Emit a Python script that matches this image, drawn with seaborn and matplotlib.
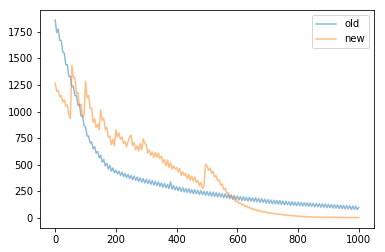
import matplotlib
matplotlib.use("Agg")
import matplotlib.pyplot as plt
import seaborn as sns

# x positions (step of 5)
steps = list(range(0, 1001, 5))

old = [
    1860, 1740, 1775, 1670, 1665, 1560, 1545, 1440, 1440, 1330,
    1330, 1230, 1240, 1150, 1150, 1060, 1065, 960, 960, 870,
    855, 770, 770, 705, 715, 650, 670, 610, 625, 565,
    590, 525, 550, 490, 515, 460, 495, 440, 470, 425,
    450, 415, 440, 400, 430, 390, 418, 380, 410, 372,
    400, 360, 395, 355, 385, 345, 378, 338, 370, 330,
    365, 325, 358, 318, 352, 310, 345, 305, 338, 298,
    330, 290, 325, 285, 315, 278, 340, 272, 305, 265,
    295, 258, 290, 250, 285, 245, 278, 240, 275, 235,
    268, 230, 266, 228, 262, 222, 258, 220, 252, 215,
    250, 212, 246, 205, 244, 205, 238, 198, 236, 198,
    230, 190, 228, 190, 222, 182, 218, 180, 212, 172,
    208, 170, 202, 165, 200, 165, 195, 160, 195, 160,
    190, 155, 190, 154, 185, 148, 182, 148, 178, 140,
    175, 140, 170, 134, 168, 135, 165, 130, 164, 130,
    160, 125, 158, 125, 155, 120, 154, 120, 150, 116,
    150, 117, 148, 113, 146, 114, 144, 110, 142, 110,
    140, 106, 138, 106, 136, 102, 134, 102, 132, 98,
    130, 98, 128, 94, 126, 94, 124, 90, 122, 90,
    120, 86, 118, 86, 116, 82, 114, 82, 112, 80,
    100,
]

new = [
    1265, 1190, 1200, 1140, 1150, 1090, 1110, 1050, 1060, 975,
    935, 1435, 1320, 1320, 1170, 1180, 1050, 1070, 950, 960,
    1285, 1130, 1150, 1030, 1030, 900, 930, 850, 880, 830,
    1015, 920, 935, 830, 850, 760, 770, 690, 740, 680,
    830, 760, 800, 740, 760, 700, 720, 670, 720, 760,
    780, 680, 710, 640, 680, 630, 700, 640, 745, 700,
    690, 610, 640, 590, 620, 570, 615, 570, 610, 560,
    580, 520, 550, 490, 545, 475, 520, 460, 490, 460,
    475, 435, 465, 400, 435, 400, 420, 370, 410, 355,
    395, 345, 385, 335, 355, 300, 335, 275, 305, 505,
    490, 450, 470, 420, 440, 385, 400, 350, 360, 310,
    320, 270, 280, 235, 240, 200, 210, 175, 182, 155,
    160, 138, 145, 122, 130, 108, 116, 96, 104, 86,
    92, 76, 84, 68, 76, 61, 68, 55, 62, 50,
    56, 45, 51, 41, 47, 37, 43, 34, 39, 31,
    35, 27, 32, 24, 29, 21, 26, 19, 23, 16,
    21, 14, 19, 12, 17, 11, 15, 10, 14, 9,
    13, 8, 12, 7, 11, 7, 11, 6, 10, 6,
    10, 5, 10, 5, 9, 4, 9, 4, 9, 4,
    9, 4, 8, 3, 8, 3, 8, 3, 8, 3,
    6,
]

labels = ["old", "new"]

fig = plt.figure(figsize=(385 / 72, 252 / 72), dpi=72)
ax = fig.add_axes([40 / 385, 1 - 227.7 / 252, 334 / 385, 217.7 / 252])

sns.lineplot(x=steps, y=old, ax=ax, label=labels[0], alpha=0.5, color="tab:blue", linewidth=1.5)
sns.lineplot(x=steps, y=new, ax=ax, label=labels[1], alpha=0.5, color="tab:orange", linewidth=1.5)

ax.set_xticks([0, 200, 400, 600, 800, 1000])
ax.set_yticks([0, 250, 500, 750, 1000, 1250, 1500, 1750])
ax.tick_params(labelsize=10)
ax.legend(loc="upper right", fontsize=10)

fig.savefig("out.png", dpi=72)
